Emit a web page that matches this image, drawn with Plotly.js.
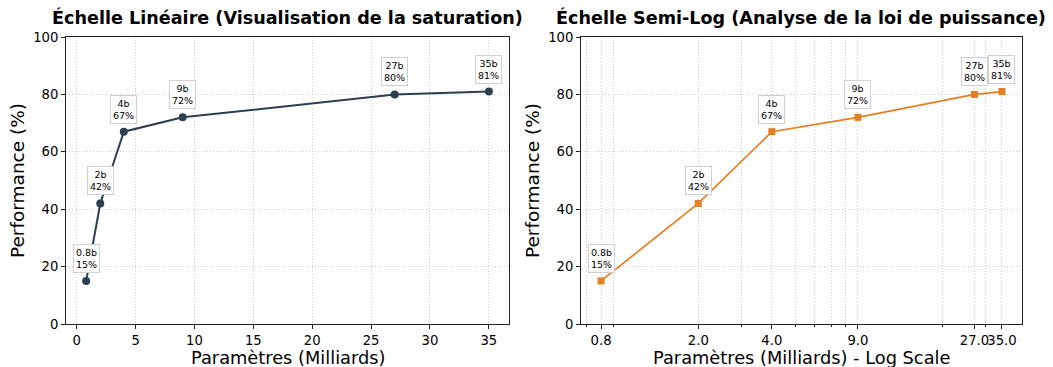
<!DOCTYPE html>
<html><head><meta charset="utf-8">
<script src="https://cdn.plot.ly/plotly-3.0.1.min.js"></script>
<style>body{margin:0;background:#fff}#c{width:1053px;height:367px}</style>
</head><body><div id="c"></div>
<script>
const params = [0.8, 2, 4, 9, 27, 35];
const perf = [15, 42, 67, 72, 80, 81];
const names = ["0.8b", "2b", "4b", "9b", "27b", "35b"];
const logTickText = ["0.8", "2.0", "4.0", "9.0", "27.0", "35.0"];
const logMinor = [0.7, 0.9, 3, 5, 6, 7, 8, 20, 30];
const titleLeft = "Échelle Linéaire (Visualisation de la saturation)";
const titleRight = "Échelle Semi-Log (Analyse de la loi de puissance)";
const xTitleLeft = "Paramètres (Milliards)";
const xTitleRight = "Paramètres (Milliards) - Log Scale";
const yTitle = "Performance (%)";

const font = "DejaVu Sans, sans-serif";
const gridc = "#cfcfcf";

const traces = [
  {x: params, y: perf, xaxis: "x", yaxis: "y", mode: "lines+markers",
   line: {color: "#2c3e50", width: 2}, marker: {color: "#2c3e50", size: 8, symbol: "circle"}},
  {x: params, y: perf, xaxis: "x2", yaxis: "y2", mode: "lines+markers",
   line: {color: "#e67e22", width: 1.7}, marker: {color: "#e67e22", size: 7, symbol: "square"}}
];

const annotations = [];
["x", "x2"].forEach((xr, k) => {
  params.forEach((p, i) => {
    annotations.push({
      x: k === 0 ? p : Math.log10(p), y: perf[i], xref: xr, yref: k === 0 ? "y" : "y2",
      text: names[i] + "<br>" + perf[i] + "%", showarrow: false,
      yanchor: "bottom", yshift: 8, font: {family: font, size: 9.5, color: "#000"},
      bgcolor: "white", bordercolor: "#d0d0d0", borderwidth: 1, borderpad: 2
    });
  });
});
annotations.push({text: "<b>" + titleLeft + "</b>", xref: "paper", yref: "paper", x: 287.5/1053, y: 1 - 17/367, yanchor: "middle",
  showarrow: false, font: {family: font, size: 17.6, color: "#000"}, xanchor: "center"});
annotations.push({text: "<b>" + titleRight + "</b>", xref: "paper", yref: "paper", x: 801/1053, y: 1 - 17/367, yanchor: "middle",
  showarrow: false, font: {family: font, size: 17.6, color: "#000"}, xanchor: "center"});
annotations.push({text: xTitleLeft, xref: "paper", yref: "paper", x: 287.5/1053, y: 0, yanchor: "bottom", yshift: -2,
  showarrow: false, font: {family: font, size: 17.8, color: "#000"}, xanchor: "center", borderpad: 0});
annotations.push({text: xTitleRight, xref: "paper", yref: "paper", x: 801.5/1053, y: 0, yanchor: "bottom", yshift: -2,
  showarrow: false, font: {family: font, size: 17.8, color: "#000"}, xanchor: "center", borderpad: 0});

const axisBase = {
  showline: true, linecolor: "#222", linewidth: 1, mirror: true,
  ticks: "outside", ticklen: 4, tickcolor: "#222", tickangle: 0,
  showgrid: true, gridcolor: gridc, griddash: "1px,2px", gridwidth: 1,
  zeroline: false, tickfont: {family: font, size: 13.2, color: "#000"}
};
const titleFont = {family: font, size: 18.5, color: "#000"};

const layout = {
  width: 1053, height: 367, showlegend: false,
  paper_bgcolor: "white", plot_bgcolor: "white",
  margin: {l: 0, r: 0, t: 0, b: 0},
  font: {family: font},
  xaxis: Object.assign({}, axisBase, {
    anchor: "y",
    domain: [66/1053, 509/1053], range: [-0.91, 36.71],
    tickvals: [0, 5, 10, 15, 20, 25, 30, 35]
  }),
  yaxis: Object.assign({}, axisBase, {
    anchor: "x",
    domain: [1 - 324/367, 1 - 37/367], range: [0, 100], tickvals: [0, 20, 40, 60, 80, 100],
    title: {text: yTitle, font: titleFont, standoff: 3}
  }),
  xaxis2: Object.assign({}, axisBase, {
    anchor: "y2",
    domain: [581/1053, 1022/1053], type: "log", range: [-0.179, 1.626],
    tickmode: "array", tickvals: params, ticktext: logTickText,
    minor: {tickmode: "array", tickvals: logMinor, ticks: "outside", ticklen: 2, tickcolor: "#222",
            showgrid: true, gridcolor: gridc, griddash: "1px,2px", gridwidth: 1}
  }),
  yaxis2: Object.assign({}, axisBase, {
    anchor: "x2",
    domain: [1 - 324/367, 1 - 37/367], range: [0, 100], tickvals: [0, 20, 40, 60, 80, 100],
    title: {text: yTitle, font: titleFont, standoff: 3}
  }),
  annotations: annotations
};

Plotly.newPlot("c", traces, layout, {displayModeBar: false, staticPlot: true});
</script>
</body></html>
